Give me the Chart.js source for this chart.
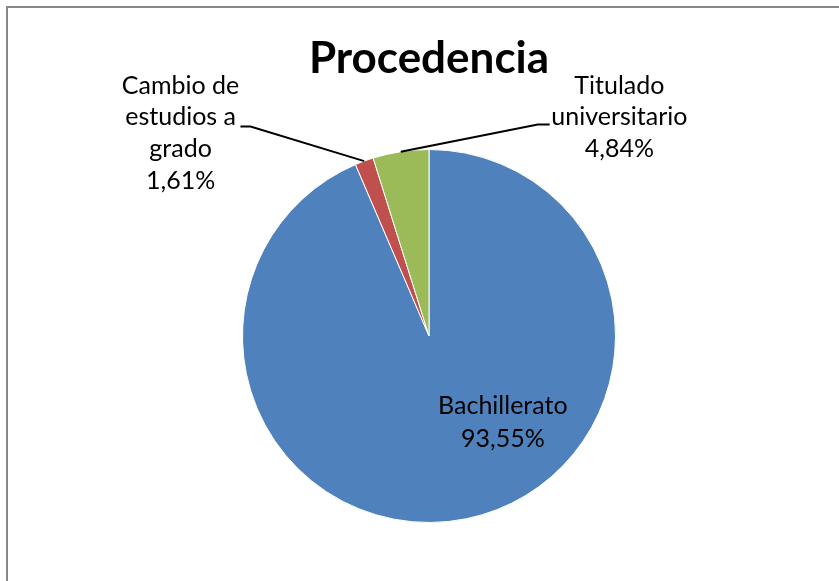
<!DOCTYPE html>
<html>
<head>
<meta charset="utf-8">
<script src="https://cdn.jsdelivr.net/npm/chart.js@4.4.1/dist/chart.umd.min.js"></script>
<style>
  html, body { margin: 0; padding: 0; background: #ffffff; }
  #c { display: block; }
</style>
</head>
<body>
<canvas id="c" width="839" height="581"></canvas>
<script>
// ---- data ----
const chartTitle = 'Procedencia';
const categories = ['Bachillerato', 'Cambio de estudios a grado', 'Titulado universitario'];
const values = [93.55, 1.61, 4.84];
const labelNameLines = [['Bachillerato'], ['Cambio de', 'estudios a', 'grado'], ['Titulado', 'universitario']];
const colors = ['#4F81BD', '#C0504D', '#9BBB59'];

// ---- label layout (relative to pie centre, in units of radius) ----
const FONT = 'Lato, "Open Sans", sans-serif';
const labelLayout = [
  { cx: 0.396, by: 0.417, lh: 33, leader: null },
  { cx: -1.332, by: -1.299, lh: 31.7, leader: { elbow: [-0.957, -1.123], end: [-1.011, -1.123] } },
  { cx: 1.021, by: -1.299, lh: 31.7, leader: { elbow: [0.583, -1.134], end: [0.647, -1.134] } }
];

function pct(v) { return v.toFixed(2).replace('.', ',') + '%'; }

const decorPlugin = {
  id: 'decor',
  afterDraw(chart) {
    const ctx = chart.ctx;
    ctx.save();
    // frame
    ctx.strokeStyle = '#878787';
    ctx.lineWidth = 2;
    ctx.beginPath();
    ctx.moveTo(7, chart.height);
    ctx.lineTo(7, 7);
    ctx.lineTo(chart.width, 7);
    ctx.stroke();

    const meta = chart.getDatasetMeta(0);
    const a0 = meta.data[0];
    const cx = a0.x, cy = a0.y, R = a0.outerRadius;

    // title
    ctx.fillStyle = '#000';
    ctx.textAlign = 'center';
    ctx.textBaseline = 'alphabetic';
    ctx.font = 'bold 44px ' + FONT;
    ctx.fillText(chartTitle, cx, 73);

    // labels + leaders
    ctx.font = '25px ' + FONT;
    meta.data.forEach((arc, i) => {
      const L = labelLayout[i];
      const lines = labelNameLines[i].concat([pct(values[i])]);
      const tx = cx + L.cx * R;
      let ty = cy + L.by * R;
      lines.forEach((t, k) => ctx.fillText(t, tx, ty + k * L.lh));
      if (L.leader) {
        const mid = (arc.startAngle + arc.endAngle) / 2;
        const ex = cx + Math.cos(mid) * R, ey = cy + Math.sin(mid) * R;
        ctx.strokeStyle = '#000';
        ctx.lineWidth = 2;
        ctx.beginPath();
        ctx.moveTo(ex, ey);
        ctx.lineTo(cx + L.leader.elbow[0] * R, cy + L.leader.elbow[1] * R);
        ctx.lineTo(cx + L.leader.end[0] * R, cy + L.leader.end[1] * R);
        ctx.stroke();
      }
    });
    ctx.restore();
  }
};

new Chart(document.getElementById('c'), {
  type: 'pie',
  data: {
    labels: categories,
    datasets: [{
      data: values,
      backgroundColor: colors,
      borderColor: '#ffffff',
      borderWidth: 1
    }]
  },
  options: {
    responsive: false,
    animation: false,
    layout: { padding: { left: 242, right: 223, top: 149, bottom: 58 } },
    plugins: {
      legend: { display: false },
      tooltip: { enabled: false },
      title: { display: false }
    }
  },
  plugins: [decorPlugin]
});
</script>
</body>
</html>
